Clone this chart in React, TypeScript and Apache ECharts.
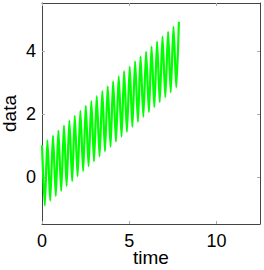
import React, { useEffect, useRef } from "react";
import * as echarts from "echarts";

const timeValues = [
  0, 0.16, 0.31, 0.47, 0.63, 0.79, 0.94, 1.1, 1.26, 1.41, 1.57, 1.73, 1.88, 2.04, 2.2, 2.36, 2.51,
  2.67, 2.83, 2.98, 3.14, 3.3, 3.46, 3.61, 3.77, 3.93, 4.08, 4.24, 4.4, 4.56, 4.71, 4.87, 5.03,
  5.18, 5.34, 5.5, 5.65, 5.81, 5.97, 6.13, 6.28, 6.44, 6.6, 6.75, 6.91, 7.07, 7.23, 7.38, 7.54,
  7.7, 7.85,
];
const dataValues = [
  1.0, -0.92, 1.16, -0.76, 1.31, -0.61, 1.47, -0.45, 1.63, -0.29, 1.79, -0.14, 1.94, 0.02, 2.1,
  0.18, 2.26, 0.34, 2.41, 0.49, 2.57, 0.65, 2.73, 0.81, 2.88, 0.96, 3.04, 1.12, 3.2, 1.28, 3.36,
  1.43, 3.51, 1.59, 3.67, 1.75, 3.83, 1.91, 3.98, 2.06, 4.14, 2.22, 4.3, 2.38, 4.46, 2.53, 4.61,
  2.69, 4.77, 2.85, 4.93,
];
const xTicks = [0, 5, 10];
const yTicks = [0, 2, 4];

export default function App() {
  const ref = useRef<HTMLDivElement>(null);
  useEffect(() => {
    const chart = echarts.init(ref.current!, null, { renderer: "svg" });
    const font = "Liberation Sans";
    const axisLine = { show: true, onZero: false, lineStyle: { color: "#444", width: 1 } };
    const tick = (vals: number[]) => ({
      show: true,
      inside: true,
      length: 3,
      customValues: vals,
      lineStyle: { color: "#aaa", width: 1 },
    });
    chart.setOption({
      animation: false,
      backgroundColor: "#fff",
      grid: {
        left: 42,
        right: 4,
        top: 3,
        bottom: 46,
        containLabel: false,
        outerBoundsMode: "none",
      },
      xAxis: [
        {
          type: "value",
          min: 0,
          max: 12.5,
          name: "time",
          nameLocation: "middle",
          nameGap: 24,
          nameMoveOverlap: false,
          nameTextStyle: { fontFamily: font, fontSize: 19, color: "#000" },
          axisLine,
          axisTick: tick(xTicks),
          splitLine: { show: false },
          axisLabel: {
            customValues: xTicks,
            fontFamily: font,
            fontSize: 18,
            color: "#000",
            margin: 8,
          },
        },
        {
          type: "value",
          position: "top",
          min: 0,
          max: 12.5,
          axisLine,
          axisTick: tick(xTicks),
          axisLabel: { show: false },
          splitLine: { show: false },
        },
      ],
      yAxis: [
        {
          type: "value",
          min: -1.5,
          max: 5.53,
          name: "data",
          nameLocation: "middle",
          nameGap: 23,
          nameMoveOverlap: false,
          nameTextStyle: { fontFamily: font, fontSize: 19, color: "#000" },
          axisLine,
          axisTick: tick(yTicks),
          splitLine: { show: false },
          axisLabel: {
            customValues: yTicks,
            fontFamily: font,
            fontSize: 18,
            color: "#000",
            margin: 6,
          },
        },
        {
          type: "value",
          position: "right",
          min: -1.5,
          max: 5.53,
          axisLine,
          axisTick: tick(yTicks),
          axisLabel: { show: false },
          splitLine: { show: false },
        },
      ],
      series: [
        {
          type: "line",
          data: timeValues.map((t, i) => [t, dataValues[i]]),
          smooth: 0.25,
          symbol: "none",
          lineStyle: { color: "#00ff00", width: 2.2 },
        },
      ],
    });
    return () => chart.dispose();
  }, []);
  return <div ref={ref} style={{ width: 264, height: 270, position: "absolute", left: 0, top: 0 }} />;
}
